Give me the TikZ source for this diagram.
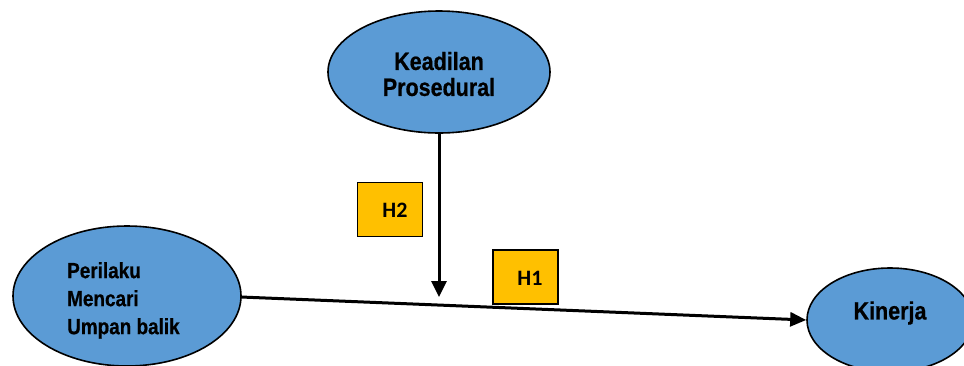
\documentclass[tikz,border=0pt]{standalone}
\usepackage{fontspec}
\usetikzlibrary{shapes.geometric,arrows.meta}
\newfontfamily\narrowfont[FakeStretch=0.86,FakeBold=0.6]{Liberation Sans}
\newfontfamily\labelfont{Carlito}
\definecolor{varblue}{HTML}{5B9BD5}
\definecolor{hypgold}{HTML}{FFC000}
\tikzset{
  varnode/.style={ellipse, draw=black, line width=1.6pt, fill=varblue, inner sep=0pt},
  vartext/.style={font=\narrowfont\bfseries, text=black, inner sep=0pt},
  hypbox/.style={draw=black, line width=1.6pt, fill=hypgold, minimum width=65pt, minimum height=54pt, inner sep=0pt},
  hyptext/.style={font=\labelfont\bfseries\fontsize{22}{22}\selectfont, text=black, inner sep=0pt},
  linkarrow/.style={line width=3pt, -{Triangle[length=16pt,width=15pt]}}
}
\begin{document}
\begin{tikzpicture}[x=1pt,y=-1pt]
  \useasboundingbox (0,0) rectangle (964,365);
  \begin{scope}
    \clip (0,0) rectangle (964,365);
    % variables
    \node[varnode, minimum width=222pt, minimum height=122pt] (kp) at (439,72) {};
    \node[varnode, minimum width=228pt, minimum height=140pt] (pmu) at (127,296) {};
    \node[varnode, minimum width=166pt, minimum height=104pt] (kin) at (890,320) {};
  \end{scope}
  \node[vartext, align=center, font=\narrowfont\bfseries\fontsize{25}{26}\selectfont] (kpt) at (439,74) {Keadilan\\Prosedural};
  \node[vartext, align=left, anchor=north west, font=\narrowfont\bfseries\fontsize{22}{28}\selectfont] (pmut) at (67,262) {Perilaku\\Mencari\\Umpan balik};
  \node[vartext, font=\narrowfont\bfseries\fontsize{25}{26}\selectfont] (kint) at (890,313) {Kinerja};
  % hypothesis labels
  \node[hypbox] (h2) at (390,209.5) {};
  \node[hyptext] (h2t) at (395,210) {H2};
  \node[hypbox] (h1) at (525.5,277) {};
  \node[hyptext] (h1t) at (530,278) {H1};
  % paths
  \coordinate (mod) at (439,297);
  \draw[linkarrow] (kp.south) -- (mod);
  \draw[linkarrow, -{Triangle[length=16pt,width=14pt]}] (241,297) -- (kin.west);
\end{tikzpicture}
\end{document}
